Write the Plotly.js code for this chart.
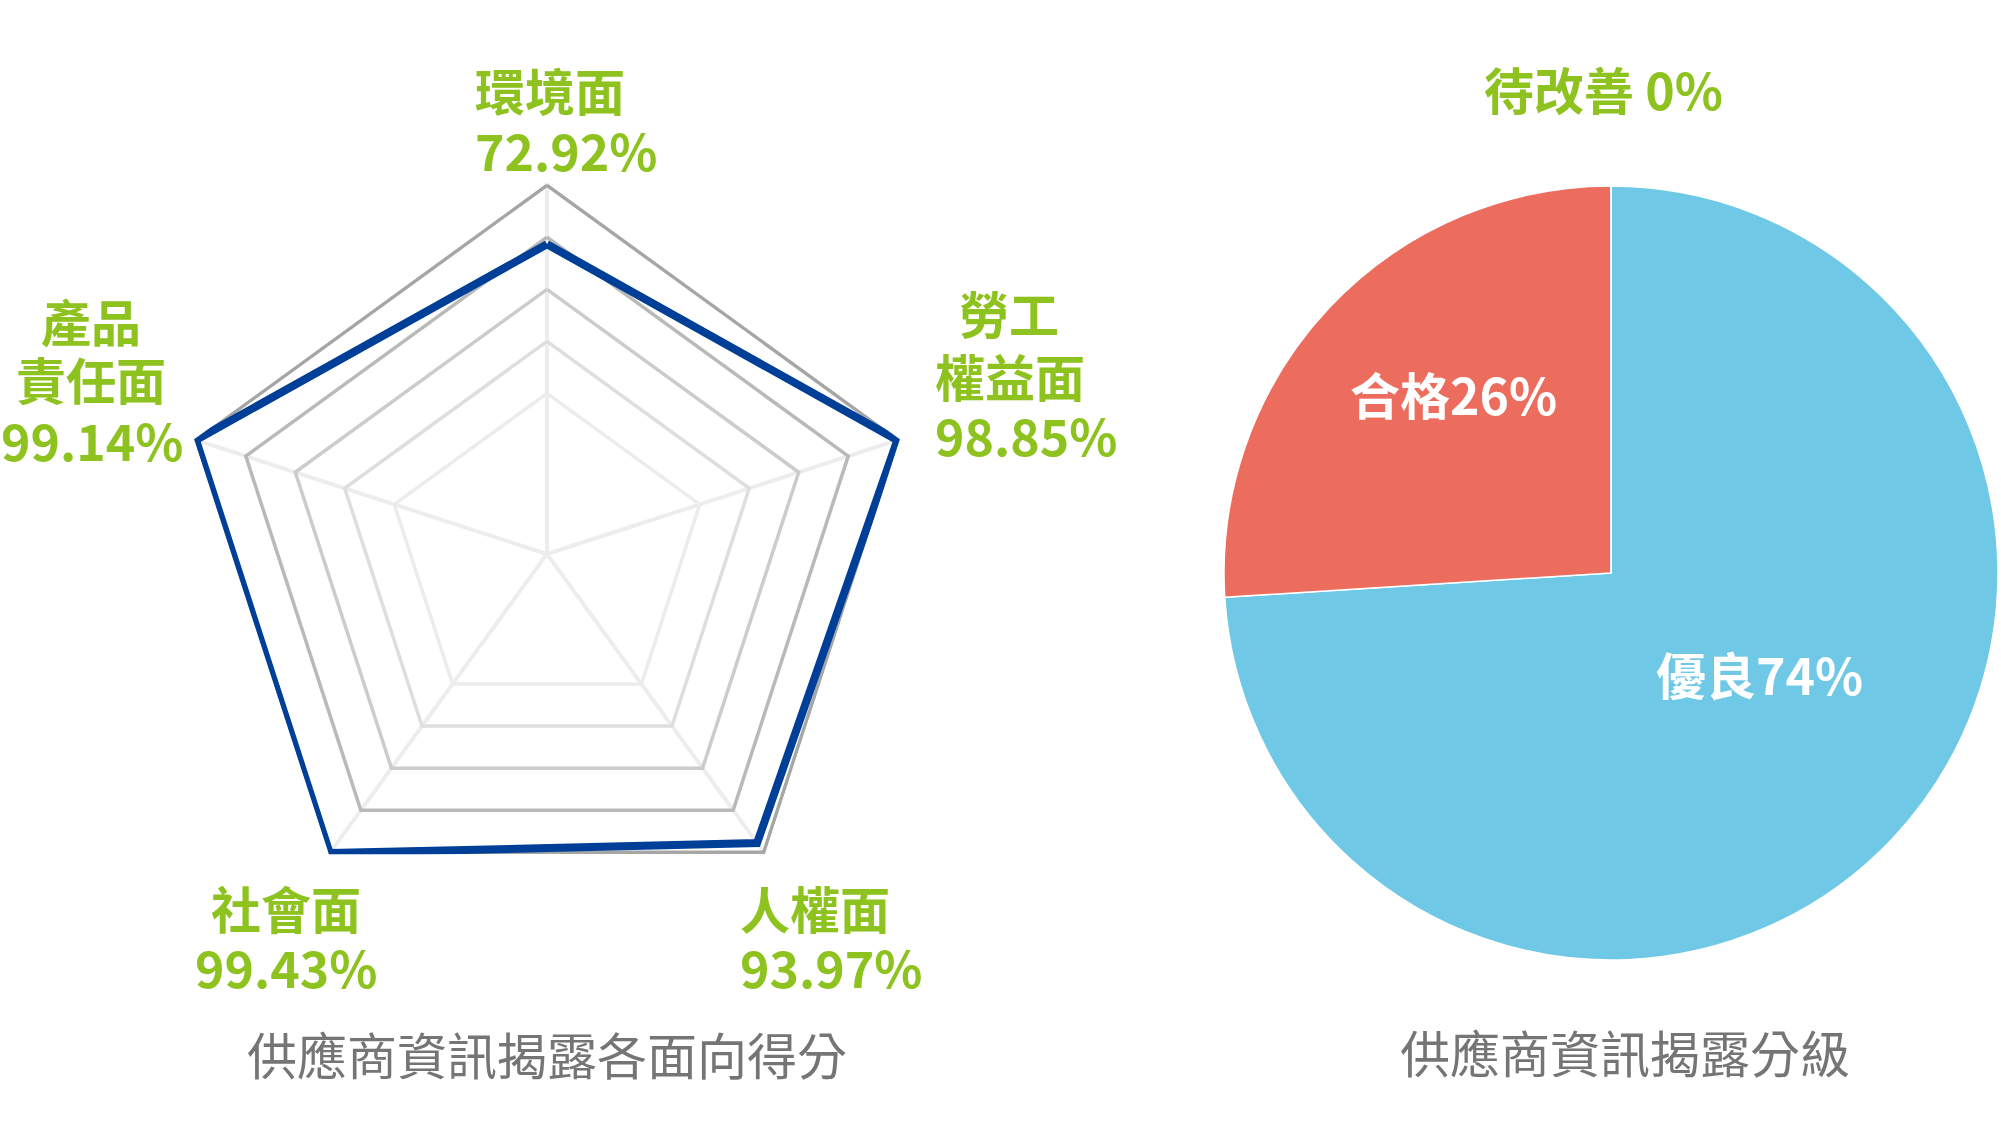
<!DOCTYPE html>
<html>
<head>
<meta charset="utf-8">
<script src="https://cdn.plot.ly/plotly-3.0.1.min.js"></script>
<style>
html,body{margin:0;padding:0;background:#ffffff;}
#chart{width:2001px;height:1144px;}
</style>
</head>
<body>
<div id="chart"></div>
<script>
// ---------- data ----------
const radarCategories = ['環境面', '勞工權益面', '人權面', '社會面', '產品責任面'];
const radarLabelLines = [['環境面'], ['勞工', '權益面'], ['人權面'], ['社會面'], ['產品', '責任面']];
const radarScores = [72.92, 98.85, 93.97, 99.43, 99.14];
const radarRingValues = [99, 76, 53, 30, 7];
const pieLabels = ['優良', '合格', '待改善'];
const pieValues = [74, 26, 0];
const chartTitles = ['供應商資訊揭露各面向得分', '供應商資訊揭露分級'];

// ---------- styling / layout ----------
const W = 2001, H = 1144;
const FONT = '"Noto Sans CJK TC", "Noto Sans CJK SC", "Noto Sans", sans-serif';
const GREEN = '#8dc21f';
const BLUE = '#003f98';
const GRAY_TITLE = '#757575';
const ringColors = ['#a6a6a6', '#b9b9b9', '#cccccc', '#dedede', '#ececec'];
const pieColors = ['#6ec8e6', '#ec6d5d', '#8dc21f'];

const px = x => x / W;
const py = y => 1 - y / H;

// radar centre (547,554), full radius 371 (radial range -64..100)
const RC = [547, 554], RR = 371;
const polarDomain = {x: [px(RC[0] - RR), px(RC[0] + RR)], y: [py(RC[1] + RR), py(RC[1] - RR)]};
// pie centre (1611,573), radius 387
const pieDomain = {x: [px(1611 - 387), px(1611 + 387)], y: [py(573 + 387), py(573 - 387)]};

const closedTheta = radarCategories.concat([radarCategories[0]]);

const traces = [];
radarRingValues.forEach((v, i) => {
  traces.push({
    type: 'scatterpolar',
    mode: 'lines',
    r: closedTheta.map(() => v),
    theta: closedTheta,
    line: {color: ringColors[i], width: 3.5},
    hoverinfo: 'skip',
    showlegend: false
  });
});
traces.push({
  type: 'scatterpolar',
  mode: 'lines',
  r: radarScores.concat([radarScores[0]]),
  theta: closedTheta,
  line: {color: BLUE, width: 8},
  cliponaxis: false,
  hoverinfo: 'skip',
  showlegend: false
});
traces.push({
  type: 'pie',
  labels: pieLabels,
  values: pieValues,
  sort: false,
  direction: 'clockwise',
  rotation: 0,
  domain: pieDomain,
  marker: {colors: pieColors, line: {color: '#ffffff', width: 1.5}},
  textinfo: 'none',
  hoverinfo: 'skip',
  showlegend: false
});

// label placement for each radar category: per-line [x, anchor, y]
const radarLabelPos = [
  [[473, 'left', 89], [473, 'left', 149]],
  [[1009, 'center', 312], [933, 'left', 375], [933, 'left', 434]],
  [[738, 'left', 907], [738, 'left', 966]],
  [[286, 'center', 907], [286, 'center', 966]],
  [[91, 'center', 320], [91, 'center', 378], [92, 'center', 439]]
];

const annotations = [];
radarCategories.forEach((c, i) => {
  const lines = radarLabelLines[i].concat([radarScores[i].toFixed(2) + '%']);
  lines.forEach((t, j) => {
    const p = radarLabelPos[i][j];
    annotations.push({
      xref: 'paper', yref: 'paper', x: px(p[0]), y: py(p[2]),
      xanchor: p[1], yanchor: 'middle', showarrow: false, text: t,
      font: {family: FONT, size: 50, color: GREEN, weight: 700}
    });
  });
});

const pieLabelPos = [[1759, 673, '#ffffff'], [1453, 393, '#ffffff'], [1603, 88, GREEN]];
pieLabels.forEach((l, i) => {
  const p = pieLabelPos[i];
  annotations.push({
    xref: 'paper', yref: 'paper', x: px(p[0]), y: py(p[1]),
    xanchor: 'center', yanchor: 'middle', showarrow: false,
    text: l + (i === 2 ? ' ' : '') + pieValues[i] + '%',
    font: {family: FONT, size: 50, color: p[2], weight: 700}
  });
});

const titlePos = [[547, 1053], [1625, 1051]];
chartTitles.forEach((t, i) => {
  annotations.push({
    xref: 'paper', yref: 'paper', x: px(titlePos[i][0]), y: py(titlePos[i][1]),
    xanchor: 'center', yanchor: 'middle', showarrow: false, text: t,
    font: {family: FONT, size: 50, color: GRAY_TITLE, weight: 400}
  });
});

const layout = {
  width: W, height: H,
  margin: {l: 0, r: 0, t: 0, b: 0, pad: 0},
  paper_bgcolor: '#ffffff',
  plot_bgcolor: '#ffffff',
  showlegend: false,
  polar: {
    domain: polarDomain,
    gridshape: 'linear',
    bgcolor: 'rgba(0,0,0,0)',
    radialaxis: {
      range: [-64, 100], autorange: false,
      showgrid: false, showline: false, showticklabels: false, ticks: ''
    },
    angularaxis: {
      type: 'category',
      categoryorder: 'array', categoryarray: radarCategories,
      direction: 'clockwise', rotation: 90,
      showline: false, showticklabels: false, ticks: '',
      showgrid: true, gridcolor: '#ededed', gridwidth: 4
    }
  },
  annotations: annotations
};

Plotly.newPlot('chart', traces, layout, {staticPlot: true, displayModeBar: false});
</script>
</body>
</html>
